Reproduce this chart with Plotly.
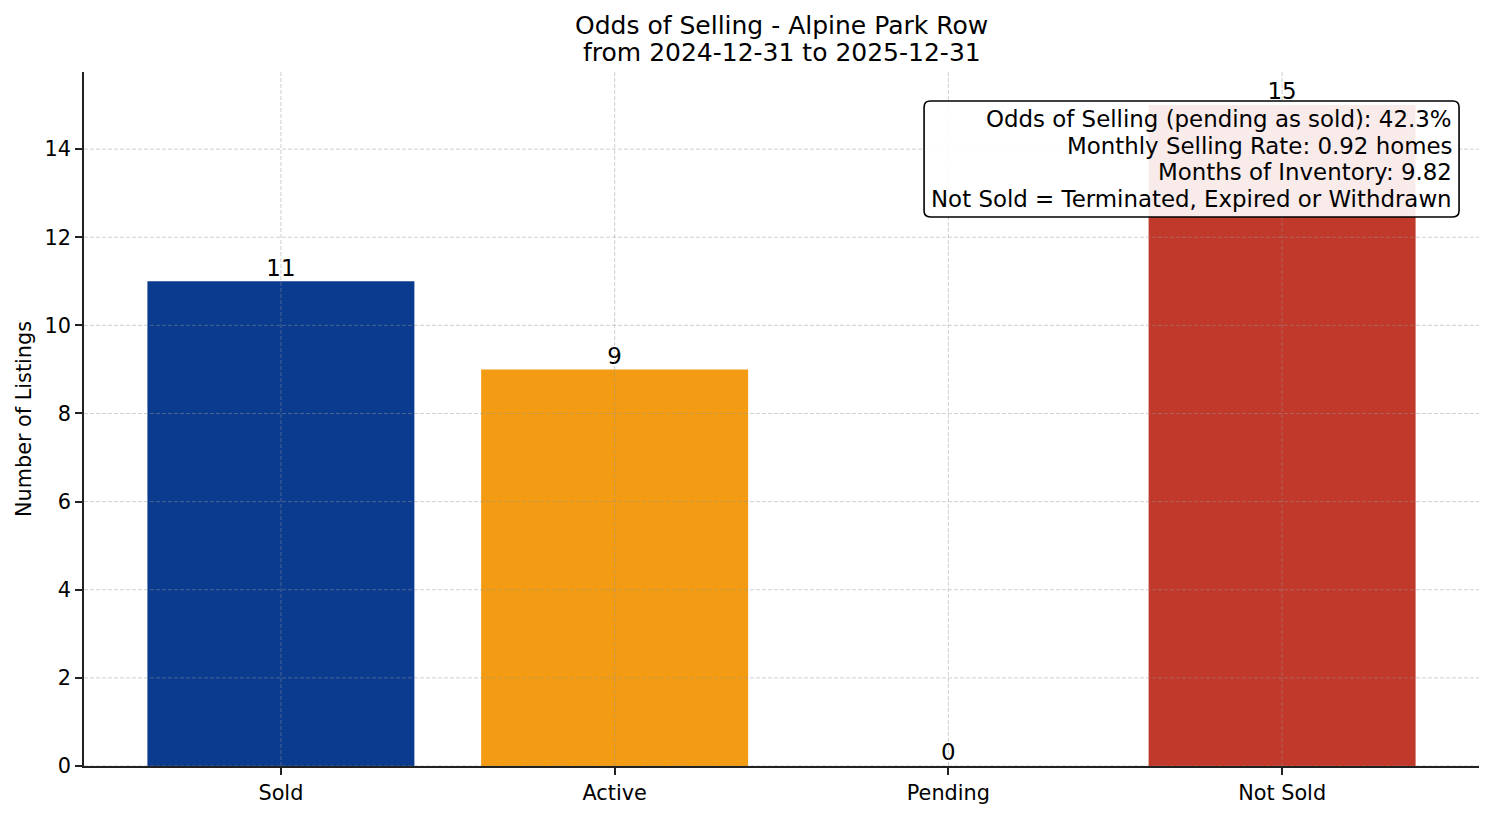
import plotly.graph_objects as go

categories = ["Sold", "Active", "Pending", "Not Sold"]
counts = [11, 9, 0, 15]
bar_colors = ["#0b3b8e", "#f39c13", "#2e8b57", "#c0392b"]
y_ticks = [0, 2, 4, 6, 8, 10, 12, 14]
title_lines = ["Odds of Selling - Alpine Park Row", "from 2024-12-31 to 2025-12-31"]
info_lines = [
    "Odds of Selling (pending as sold): 42.3%",
    "Monthly Selling Rate: 0.92 homes",
    "Months of Inventory: 9.82",
    "Not Sold = Terminated, Expired or Withdrawn",
]

FONT = "DejaVu Sans"
BASE = 20.8
BOX_FONT = 22.9
GRID = "rgba(150,150,150,0.45)"

fig = go.Figure()
fig.add_trace(go.Bar(
    x=categories, y=counts, marker=dict(color=bar_colors, line=dict(width=0)),
    width=0.8, showlegend=False, hoverinfo="skip",
))
fig.add_trace(go.Scatter(
    x=categories, y=counts, mode="text", text=[str(v) for v in counts],
    textposition="top center", textfont=dict(family=FONT, size=BOX_FONT, color="black"),
    showlegend=False, hoverinfo="skip", cliponaxis=False,
))

shapes = []
for t in y_ticks:
    shapes.append(dict(type="line", xref="paper", yref="y", x0=0, x1=1, y0=t, y1=t,
                       layer="above", line=dict(color=GRID, width=1, dash="4px,2px")))
for c in categories:
    shapes.append(dict(type="line", xref="x", yref="paper", x0=c, x1=c, y0=0, y1=1,
                       layer="above", line=dict(color=GRID, width=1, dash="4px,2px")))

# info box (rounded rectangle) in paper coordinates
bx0, bx1, by0, by1 = 0.6022, 0.9857, 0.7911, 0.9582
rx, ry = 0.0045, 0.009
path = (f"M {bx0+rx},{by0} L {bx1-rx},{by0} Q {bx1},{by0} {bx1},{by0+ry} "
        f"L {bx1},{by1-ry} Q {bx1},{by1} {bx1-rx},{by1} "
        f"L {bx0+rx},{by1} Q {bx0},{by1} {bx0},{by1-ry} "
        f"L {bx0},{by0+ry} Q {bx0},{by0} {bx0+rx},{by0} Z")
shapes.append(dict(type="path", xref="paper", yref="paper", path=path, layer="above",
                   fillcolor="rgba(255,255,255,0.9)", line=dict(color="black", width=1.6)))

annotations = []
line_y = [0.9323, 0.8934, 0.8559, 0.8170]
for txt, yy in zip(info_lines, line_y):
    annotations.append(dict(xref="paper", yref="paper", x=0.9821, y=yy, xanchor="right",
                            yanchor="middle", text=txt, showarrow=False,
                            font=dict(family=FONT, size=BOX_FONT, color="black")))
for txt, yy in zip(title_lines, [1.0677, 1.0274]):
    annotations.append(dict(xref="paper", yref="paper", x=0.5, y=yy, xanchor="center",
                            yanchor="middle", text=txt, showarrow=False,
                            font=dict(family=FONT, size=25, color="black")))

fig.update_layout(
    width=1494, height=816,
    margin=dict(l=76, r=23, t=64, b=58),
    paper_bgcolor="white", plot_bgcolor="white",
    font=dict(family=FONT, size=BASE, color="black"),
    xaxis=dict(
        range=[-0.59, 3.59], showgrid=False, showline=True, linecolor="#222",
        linewidth=1.6, ticks="outside", ticklen=7, tickwidth=1.6, tickcolor="#222",
        tickfont=dict(size=BASE), zeroline=False, mirror=False,
    ),
    yaxis=dict(
        range=[0, 15.75], tickvals=y_ticks, showgrid=False, showline=True,
        linecolor="#222", linewidth=1.6, ticks="outside", ticklen=7, tickwidth=1.6,
        tickcolor="#222", tickfont=dict(size=BASE), zeroline=False,
        title=dict(text="Number of Listings", font=dict(size=BASE), standoff=7),
    ),
    shapes=shapes,
    annotations=annotations,
    bargap=0.2,
)

fig.write_html("out.html")
